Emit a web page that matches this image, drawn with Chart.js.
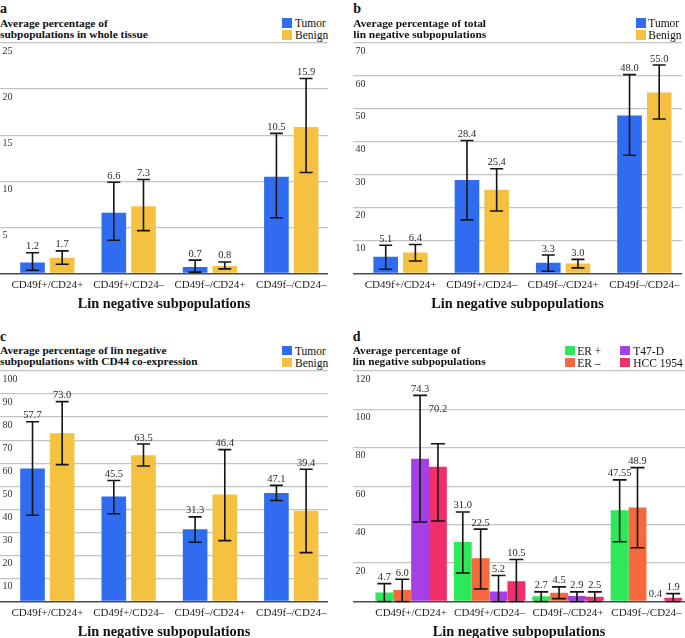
<!DOCTYPE html>
<html>
<head>
<meta charset="utf-8">
<script src="https://cdn.jsdelivr.net/npm/chart.js@4.4.0/dist/chart.umd.min.js"></script>
<style>
html,body{margin:0;padding:0;background:#fff;}
body{width:685px;height:638px;position:relative;overflow:hidden;font-family:"Liberation Serif","Times New Roman",serif;color:#111;}
.abs{position:absolute;white-space:nowrap;}
.bold{font-weight:bold;}
.box{position:absolute;}
.cw{position:absolute;}
</style>
</head>
<body>
<script>
// ---------------- DATA ----------------
const categories = ["CD49f+/CD24+", "CD49f+/CD24–", "CD49f–/CD24+", "CD49f–/CD24–"];
const xAxisTitle = "Lin negative subpopulations";

// panel a
const titleA = ["Average percentage of", "subpopulations in whole tissue"];
const legendAB = ["Tumor", "Benign"];
const ticksA = [0, 5, 10, 15, 20, 25];
const tumorA = [1.2, 6.6, 0.7, 10.5];
const tumorALow = [0.35, 3.6, 0.15, 6.05];
const tumorAHigh = [2.25, 9.9, 1.45, 15.2];
const benignA = [1.7, 7.3, 0.8, 15.9];
const benignALow = [1.0, 4.65, 0.5, 10.95];
const benignAHigh = [2.45, 10.2, 1.25, 21.15];

// panel b
const titleB = ["Average percentage of total", "lin negative subpopulations"];
const ticksB = [0, 10, 20, 30, 40, 50, 60, 70];
const tumorB = [5.1, 28.4, 3.3, 48.0];
const tumorBLow = [1.3, 16.3, 0.7, 35.9];
const tumorBHigh = [8.6, 40.4, 5.6, 60.4];
const benignB = [6.4, 25.4, 3.0, 55.0];
const benignBLow = [3.8, 19.0, 1.7, 46.9];
const benignBHigh = [8.8, 31.8, 4.3, 63.3];

// panel c
const titleC = ["Average percentage of lin negative", "subpopulations with CD44 co-expression"];
const ticksC = [0, 10, 20, 30, 40, 50, 60, 70, 80, 90, 100];
const tumorC = [57.7, 45.5, 31.3, 47.1];
const tumorCLow = [37.4, 38.1, 25.7, 43.8];
const tumorCHigh = [78.0, 52.5, 36.7, 50.4];
const benignC = [73.0, 63.5, 46.4, 39.4];
const benignCLow = [59.4, 58.8, 26.4, 21.2];
const benignCHigh = [86.7, 68.3, 65.9, 57.4];

// panel d
const titleD = ["Average percentage of", "lin negative subpopulations"];
const legendD = ["ER +", "ER –", "T47-D", "HCC 1954"];
const ticksD = [0, 20, 40, 60, 80, 100, 120];
const erPosD = [4.7, 31.0, 2.7, 47.55];
const erPosDLow = [0, 14.8, 0, 31.1];
const erPosDHigh = [9.3, 46.6, 5.0, 63.3];
const erNegD = [6.0, 22.5, 4.5, 48.9];
const erNegDLow = [0, 6.5, 1.5, 28.0];
const erNegDHigh = [11.55, 37.7, 7.6, 69.7];
const t47dD = [74.3, 5.2, 2.9, 0.4];
const t47dDLow = [41.4, 0, 0, null];
const t47dDHigh = [107.3, 13.5, 5.0, null];
const hccD = [70.2, 10.5, 2.5, 1.9];
const hccDLow = [41.9, 0, 0, 0];
const hccDHigh = [82.1, 21.9, 5.0, 4.1];

// ---------------- STYLE ----------------
const COL = {
  tumor: '#2f6cf0', benign: '#f5c140',
  erPos: '#2de85b', erNeg: '#f5693d', t47d: '#a640e6', hcc: '#f22e6a'
};
const FAMILY = '"Liberation Serif", "Times New Roman", serif';
Chart.defaults.font.family = FAMILY;

function fmt(v) {
  const s = String(v);
  const dec = s.includes('.') ? s.split('.')[1].length : 0;
  return v.toFixed(Math.max(1, dec));
}

const errorBars = {
  id: 'errorBars',
  afterDatasetsDraw(chart, args, o) {
    const ctx = chart.ctx, ys = chart.scales.y;
    ctx.save();
    ctx.strokeStyle = o.color; ctx.lineWidth = o.width;
    chart.data.datasets.forEach((ds, di) => {
      const meta = chart.getDatasetMeta(di);
      meta.data.forEach((el, i) => {
        const lo = ds.errLow[i], hi = ds.errHigh[i];
        if (lo == null || hi == null) return;
        const yl = ys.getPixelForValue(lo), yh = ys.getPixelForValue(hi);
        ctx.beginPath();
        ctx.moveTo(el.x, yl); ctx.lineTo(el.x, yh);
        ctx.moveTo(el.x - o.cap / 2, yh); ctx.lineTo(el.x + o.cap / 2, yh);
        ctx.moveTo(el.x - o.cap / 2, yl); ctx.lineTo(el.x + o.cap / 2, yl);
        ctx.stroke();
      });
    });
    ctx.restore();
  }
};

const valueLabels = {
  id: 'valueLabels',
  afterDatasetsDraw(chart, args, o) {
    const ctx = chart.ctx, ys = chart.scales.y;
    ctx.save();
    ctx.font = o.font; ctx.fillStyle = o.color;
    ctx.textAlign = 'center'; ctx.textBaseline = 'alphabetic';
    chart.data.datasets.forEach((ds, di) => {
      const meta = chart.getDatasetMeta(di);
      meta.data.forEach((el, i) => {
        const hi = ds.errHigh[i];
        let y = el.y;
        if (hi != null) y = Math.min(y, ys.getPixelForValue(hi));
        const lift = (o.lift && o.lift[di + '-' + i]) || 0;
        ctx.fillText(fmt(ds.data[i].y), el.x, y - o.gap - lift);
      });
    });
    ctx.restore();
  }
};

function placeText(txt, x, baseline, fs, lh, bold) {
  const d = document.createElement('div');
  d.className = 'abs' + (bold ? ' bold' : '');
  d.textContent = txt;
  d.style.fontSize = fs + 'px';
  d.style.lineHeight = lh + 'px';
  const off = (lh - 1.107 * fs) / 2 + 0.891 * fs;
  d.style.left = x + 'px';
  d.style.top = (baseline - off) + 'px';
  document.body.appendChild(d);
}

function placeBox(x, cy, color) {
  const b = document.createElement('div');
  b.className = 'box';
  b.style.left = x + 'px'; b.style.top = (cy - 4.75) + 'px';
  b.style.width = '9.5px'; b.style.height = '9.5px';
  b.style.background = color;
  document.body.appendChild(b);
}

function header(g, letter, title) {
  placeText(letter, g.L, g.top - 28.8, 14, 14, true);
  placeText(title[0], g.L, g.top - 16.5, 11.4, 12, true);
  placeText(title[1], g.L, g.top - 5.5, 11.4, 12, true);
}

function legendItem(label, color, bx, tx, cy) {
  placeBox(bx, cy, color);
  placeText(label, tx, cy + 4.3, 11.5, 12, false);
}

function buildChart(g, yTicks, series, bar, extra) {
  const wrap = document.createElement('div');
  wrap.className = 'cw';
  document.body.appendChild(wrap);
  const cv = document.createElement('canvas');
  wrap.appendChild(cv);
  const xmin = -(g.c0 - g.L) / g.w;
  const xmax = xmin + (g.R - g.L) / g.w;
  const cfg = () => ({
    type: 'bar',
    data: {
      datasets: series.map(s => ({
        label: s.label,
        data: s.values.map((v, i) => ({ x: i, y: v })),
        errLow: s.low, errHigh: s.high,
        backgroundColor: s.color,
        borderWidth: 0,
        categoryPercentage: bar.cp,
        barPercentage: bar.bp
      }))
    },
    options: {
      responsive: false,
      maintainAspectRatio: false,
      animation: false,
      devicePixelRatio: 1,
      events: [],
      layout: { padding: { left: 12, right: 12, top: 12, bottom: 0 } },
      plugins: {
        legend: { display: false },
        tooltip: { enabled: false },
        errorBars: { color: '#141414', width: 1.6, cap: bar.cap },
        valueLabels: { font: '10.5px ' + FAMILY, color: '#2a2a2a', gap: 3.5, lift: extra && extra.lift }
      },
      scales: {
        x: {
          type: 'linear',
          min: xmin, max: xmax,
          bounds: 'data',
          offset: false,
          afterBuildTicks: (sc) => { sc.ticks = categories.map((c, i) => ({ value: i })); },
          grid: { display: false, drawTicks: false },
          border: { display: false },
          ticks: {
            autoSkip: false, maxRotation: 0, minRotation: 0,
            padding: 5,
            color: '#222',
            font: { size: 11, family: FAMILY },
            callback: (v) => categories[v]
          },
          title: {
            display: true, text: xAxisTitle, color: '#111',
            font: { size: 14.3, weight: 'bold', family: FAMILY, lineHeight: 1.0 },
            padding: { top: 0, bottom: 0 }
          }
        },
        y: {
          min: 0, max: yTicks[yTicks.length - 1],
          afterBuildTicks: (sc) => { sc.ticks = yTicks.map(v => ({ value: v })); },
          grid: {
            drawTicks: false,
            color: (c) => c.tick && c.tick.value === 0 ? '#4a4a4a' : '#c4c4c4',
            lineWidth: (c) => c.tick && c.tick.value === 0 ? 1.5 : 1.3
          },
          border: { display: false },
          ticks: {
            mirror: true, padding: 2.5, labelOffset: 8,
            color: '#333',
            font: { size: 10, family: FAMILY },
            callback: (v) => v === 0 ? '' : String(v)
          }
        }
      }
    },
    plugins: [errorBars, valueLabels]
  });
  let W = Math.round(g.R - g.L + 24), H = Math.round(g.zero - g.top + 60);
  let chart = null, ca = null;
  for (let it = 0; it < 4; it++) {
    if (chart) chart.destroy();
    cv.width = W; cv.height = H;
    cv.style.width = W + 'px'; cv.style.height = H + 'px';
    chart = new Chart(cv, cfg());
    ca = chart.chartArea;
    const nW = Math.round(ca.left + (g.R - g.L) + (W - ca.right));
    const nH = Math.round(ca.top + (g.zero - g.top) + (H - ca.bottom));
    if (nW === W && nH === H) break;
    W = nW; H = nH;
  }
  wrap.style.left = Math.round(g.L - ca.left) + 'px';
  wrap.style.top = Math.round(g.top - ca.top) + 'px';
  return chart;
}

// ---------------- PANELS ----------------
const geoA = { L: 0, R: 328, top: 43, zero: 273.5, c0: 47.35, w: 81.3 };
const geoB = { L: 353.3, R: 682, top: 43, zero: 273.3, c0: 400.8, w: 81.2 };
const geoC = { L: 0, R: 328, top: 370.7, zero: 601, c0: 47.35, w: 81.3 };
const geoD = { L: 352.7, R: 685, top: 370.7, zero: 601.3, c0: 410.9, w: 78.5 };
const pairBar = { cp: 0.73, bp: 0.83, cap: 13 };
const quadBar = { cp: 0.911, bp: 1.0, cap: 14 };

header(geoA, 'a', titleA);
legendItem(legendAB[0], COL.tumor, 282.3, 295, geoA.top - 20.2);
legendItem(legendAB[1], COL.benign, 282.3, 295, geoA.top - 8.1);
buildChart(geoA, ticksA, [
  { label: legendAB[0], values: tumorA, low: tumorALow, high: tumorAHigh, color: COL.tumor },
  { label: legendAB[1], values: benignA, low: benignALow, high: benignAHigh, color: COL.benign }
], pairBar);

header(geoB, 'b', titleB);
legendItem(legendAB[0], COL.tumor, 636, 648.3, geoB.top - 20.2);
legendItem(legendAB[1], COL.benign, 636, 648.3, geoB.top - 8.1);
buildChart(geoB, ticksB, [
  { label: legendAB[0], values: tumorB, low: tumorBLow, high: tumorBHigh, color: COL.tumor },
  { label: legendAB[1], values: benignB, low: benignBLow, high: benignBHigh, color: COL.benign }
], pairBar);

header(geoC, 'c', titleC);
legendItem(legendAB[0], COL.tumor, 282.3, 295, geoC.top - 20.2);
legendItem(legendAB[1], COL.benign, 282.3, 295, geoC.top - 8.1);
buildChart(geoC, ticksC, [
  { label: legendAB[0], values: tumorC, low: tumorCLow, high: tumorCHigh, color: COL.tumor },
  { label: legendAB[1], values: benignC, low: benignCLow, high: benignCHigh, color: COL.benign }
], pairBar);

header(geoD, 'd', titleD);
legendItem(legendD[0], COL.erPos, 565, 577.3, geoD.top - 20.3);
legendItem(legendD[1], COL.erNeg, 565, 577.3, geoD.top - 8.4);
legendItem(legendD[2], COL.t47d, 620, 633.3, geoD.top - 20.3);
legendItem(legendD[3], COL.hcc, 620, 633.3, geoD.top - 8.4);
buildChart(geoD, ticksD, [
  { label: legendD[0], values: erPosD, low: erPosDLow, high: erPosDHigh, color: COL.erPos },
  { label: legendD[1], values: erNegD, low: erNegDLow, high: erNegDHigh, color: COL.erNeg },
  { label: legendD[2], values: t47dD, low: t47dDLow, high: t47dDHigh, color: COL.t47d },
  { label: legendD[3], values: hccD, low: hccDLow, high: hccDHigh, color: COL.hcc }
], quadBar, { lift: { '3-0': 28.4 } });
</script>
</body>
</html>
